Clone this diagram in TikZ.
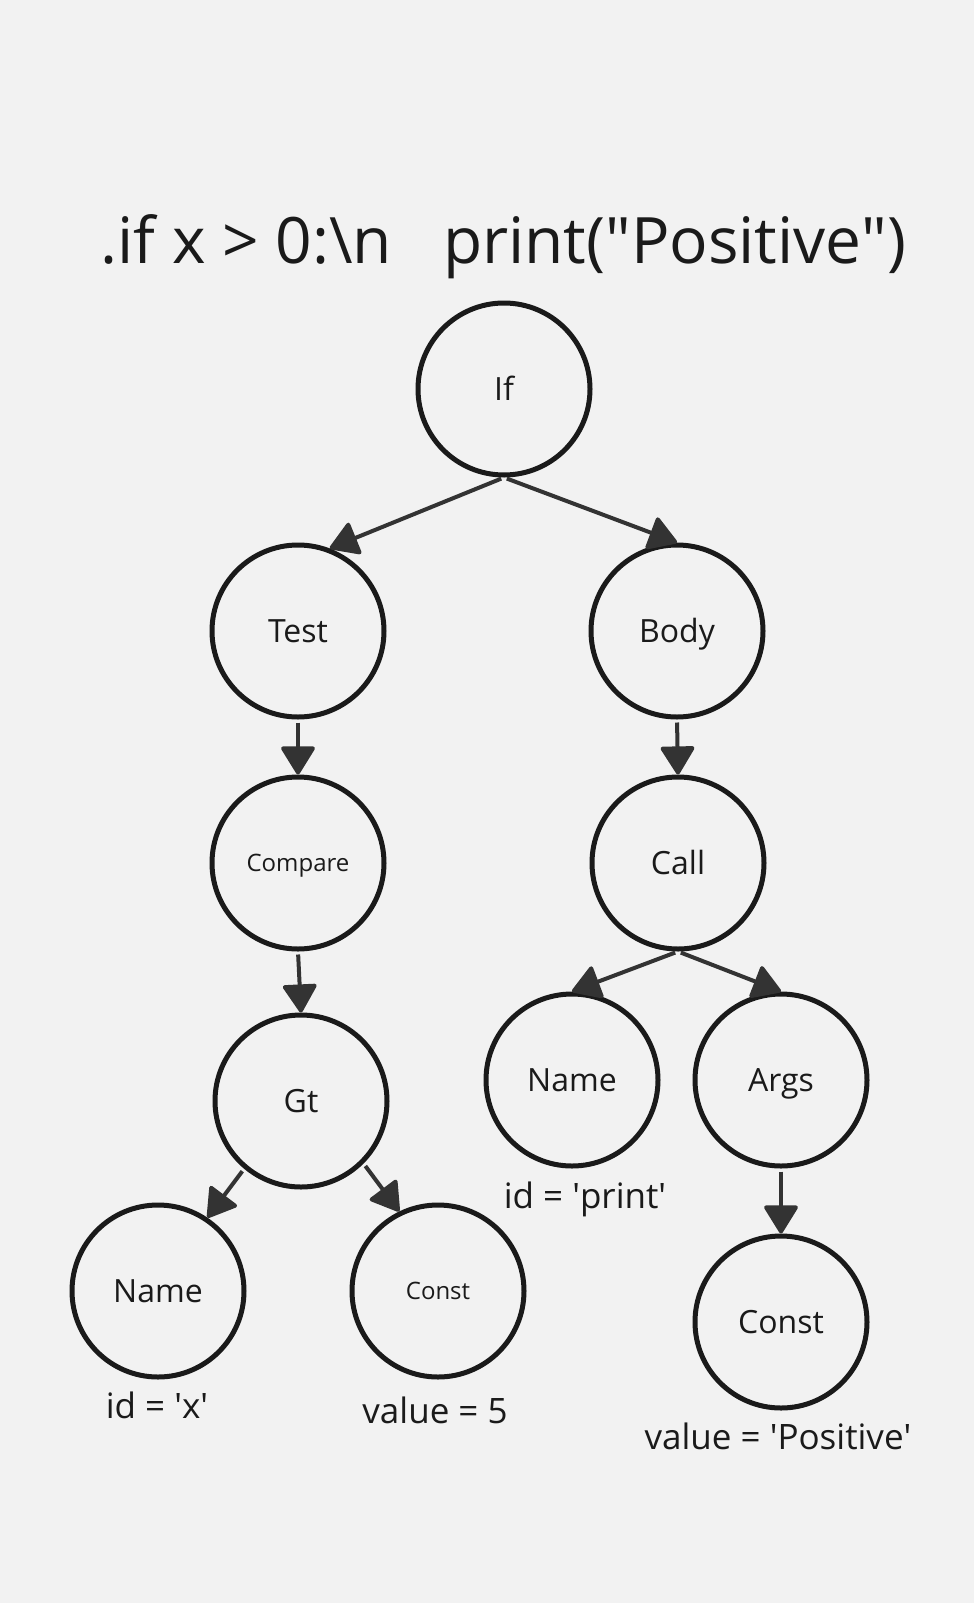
\documentclass[tikz,border=0pt]{standalone}
\usepackage{fontspec}
\setmainfont{Open Sans}
\usetikzlibrary{arrows.meta}
\definecolor{bg}{RGB}{242,242,242}
\definecolor{ink}{RGB}{26,26,26}
\definecolor{edge}{RGB}{51,51,51}
\newcommand{\sq}{\textquotesingle}
\newcommand{\dq}{\textquotedbl}
\tikzset{
  astnode/.style={circle, draw=ink, line width=5pt, minimum size=172pt, inner sep=0pt,
    text=ink, font=\fontsize{32}{36}\selectfont, text height=23pt, text depth=0pt},
  smalltext/.style={font=\fontsize{24}{28}\selectfont, text height=17pt},
  conn/.style={draw=edge, line width=4pt, -{Triangle[length=30pt,width=36pt,round]}, shorten <=3pt},
  attr/.style={text=ink, font=\fontsize{35}{40}\selectfont, anchor=base, inner sep=0pt},
}
\begin{document}
\begin{tikzpicture}[x=1pt,y=-1pt]
\fill[bg] (0,0) rectangle (974,1603);
\useasboundingbox (0,0) rectangle (974,1603);
\node[text=ink, font=\fontsize{64}{72}\selectfont, anchor=base, inner sep=0pt] (title) at (503.5,263)
  {.if x > 0:\textbackslash n\hspace{51pt}print(\dq Positive\dq)};
\node[astnode] (if) at (504,389) {If};
\node[astnode] (test) at (298,631) {Test};
\node[astnode] (body) at (677,631) {Body};
\node[astnode, smalltext] (compare) at (298,863) {Compare};
\node[astnode] (call) at (678,863) {Call};
\node[astnode] (gt) at (301,1101) {Gt};
\node[astnode] (namer) at (572,1080) {Name};
\node[astnode] (args) at (781,1080) {Args};
\node[astnode] (namel) at (158,1291) {Name};
\node[astnode, smalltext] (constl) at (438,1291) {Const};
\node[astnode] (constr) at (781,1322) {Const};
\node[attr] (idx) at (157,1418) {id = \sq x\sq};
\node[attr] (val5) at (435,1423) {value = 5};
\node[attr] (idprint) at (585,1208) {id = \sq print\sq};
\node[attr] (valpos) at (778,1449) {value = \sq Positive\sq};
\draw[conn] (if.south) -- (test.69);
\draw[conn] (if.south) -- (body.north);
\draw[conn] (test.south) -- (compare.north);
\draw[conn] (body.south) -- (call.north);
\draw[conn] (compare.south) -- (gt.north);
\draw[conn] (call.south) -- (namer.north);
\draw[conn] (call.south) -- (args.north);
\draw[conn] (gt.230) -- (namel.56);
\draw[conn] (gt.315) -- (constl.116);
\draw[conn] (args.south) -- (constr.north);
\end{tikzpicture}
\end{document}
